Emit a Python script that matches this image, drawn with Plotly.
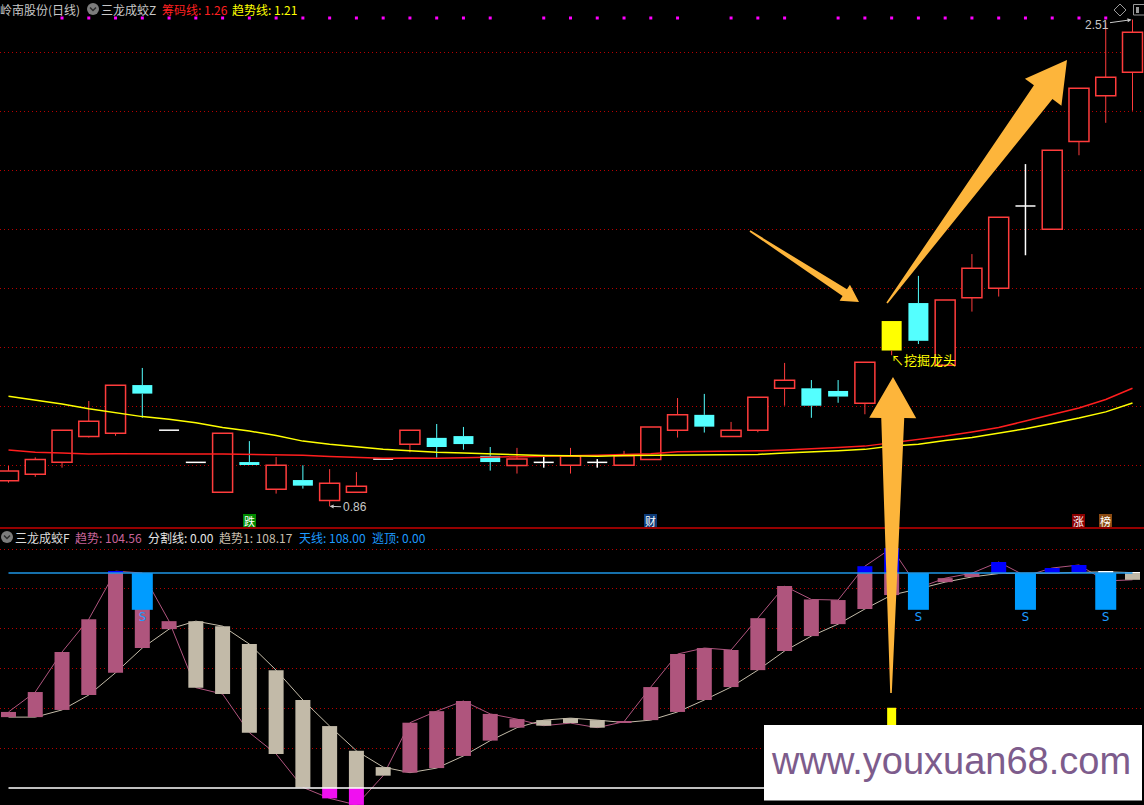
import plotly.graph_objects as go

W, H = 1144, 805

# ---------------- 主图 K 线 (price panel) ----------------
opens = [0.947, 0.969, 1.009, 1.097, 1.108, 1.271, 1.118, 1.009, 0.908, 1.010,
         0.918, 0.949, 0.880, 0.908, 1.020, 1.070, 1.092, 1.098, 1.031, 0.998,
         1.009, 0.999, 1.009, 0.999, 1.019, 1.118, 1.170, 1.097, 1.118, 1.260,
         1.260, 1.251, 1.209, 1.388, 1.549, 1.338, 1.567, 1.599, 1.878, 1.799,
         2.097, 2.252, 2.331]
highs = [0.997, 1.026, 1.118, 1.217, 1.270, 1.329, 1.118, 1.009, 1.108, 1.081,
         1.027, 0.999, 0.986, 0.976, 1.020, 1.118, 1.139, 1.129, 1.061, 1.058,
         1.028, 1.058, 1.020, 1.048, 1.129, 1.227, 1.241, 1.146, 1.230, 1.346,
         1.288, 1.288, 1.348, 1.488, 1.641, 1.559, 1.715, 1.840, 2.020, 2.067,
         2.277, 2.500, 2.510]
lows = [0.940, 0.960, 0.991, 1.093, 1.099, 1.160, 1.118, 1.009, 0.908, 1.000,
        0.903, 0.920, 0.860, 0.908, 1.020, 1.043, 1.025, 1.052, 0.981, 0.971,
        0.991, 0.971, 0.991, 0.999, 1.019, 1.093, 1.110, 1.097, 1.111, 1.201,
        1.160, 1.211, 1.172, 1.372, 1.410, 1.338, 1.520, 1.571, 1.711, 1.799,
        2.050, 2.160, 2.201]
closes = [0.980, 1.019, 1.118, 1.148, 1.270, 1.242, 1.118, 1.009, 1.108, 1.000,
          0.999, 0.930, 0.938, 0.928, 1.020, 1.118, 1.061, 1.071, 1.010, 1.020,
          1.009, 1.030, 1.009, 1.031, 1.129, 1.170, 1.130, 1.118, 1.230, 1.287,
          1.201, 1.232, 1.348, 1.488, 1.421, 1.559, 1.667, 1.840, 1.878, 2.067,
          2.277, 2.314, 2.467]
# 筹码线 (red) and 趋势线 (yellow)
chip_line = [1.051, 1.043, 1.041, 1.037, 1.038, 1.037, 1.037, 1.037, 1.037, 1.036,
             1.034, 1.033, 1.029, 1.026, 1.023, 1.024, 1.023, 1.025, 1.026, 1.028,
             1.030, 1.031, 1.033, 1.035, 1.038, 1.045, 1.046, 1.046, 1.048, 1.051,
             1.054, 1.059, 1.064, 1.075, 1.086, 1.098, 1.112, 1.127, 1.149, 1.170,
             1.193, 1.222, 1.260]
trend_line = [1.233, 1.220, 1.207, 1.191, 1.177, 1.164, 1.155, 1.143, 1.127, 1.115,
              1.100, 1.081, 1.070, 1.061, 1.053, 1.048, 1.043, 1.041, 1.038, 1.034,
              1.032, 1.031, 1.030, 1.032, 1.033, 1.033, 1.034, 1.035, 1.036, 1.041,
              1.044, 1.048, 1.053, 1.064, 1.070, 1.083, 1.093, 1.107, 1.123, 1.141,
              1.159, 1.180, 1.210]
dot_idx = list(range(2, 19)) + list(range(20, 26)) + [27, 28, 29] + list(range(31, 42))
signal_idx = 33
badges = [(9, "跌", "#008a00"), (24, "财", "#0d3b78"), (40, "涨", "#8b0000"), (41, "榜", "#8a4a12")]
grid_top = [1.0, 1.2, 1.4, 1.6, 1.8, 2.0, 2.2, 2.4]

# ---------------- 副图 三龙成蛟F ----------------
trend = [38.2, 48.2, 68.3, 84.8, 108.9, 108.0, 83.8, 50.4, 47.2, 27.8,
         17.1, 0.3, -5.2, -8.5, 6.2, 32.8, 38.6, 43.7, 37.2, 34.6,
         31.3, 32.6, 30.3, 33.3, 50.7, 67.3, 70.3, 69.3, 85.3, 101.4,
         94.7, 94.4, 111.4, 120.5, 100.5, 105.4, 107.9, 113.5, 106.5, 110.5,
         112.0, 104.0, 104.56]
trend1 = [35.6, 35.6, 39.2, 46.7, 57.9, 70.3, 79.8, 83.8, 81.3, 72.3,
          59.2, 44.2, 31.1, 18.7, 10.5, 7.7, 10.0, 16.1, 23.8, 30.3,
          34.1, 35.1, 34.1, 32.9, 34.1, 38.2, 44.2, 50.7, 59.2, 68.8,
          76.3, 82.3, 89.9, 96.9, 100.0, 103.4, 106.0, 107.7, 107.9, 107.9,
          108.3, 108.6, 108.17]
sky = 108.0      # 天线
split = 0.0      # 分割线
escape_idx = [5, 34, 38, 41]   # 逃顶 S
escape_low = 89.5
dig_height = 40.3
grid_bot = [20, 40, 60, 80, 100, 120]

# ---------------- pixel geometry ----------------
X0, STEP = 8.5, 26.762
def px(x): return x / W
def py(y): return 1 - y / H
def price_of(y): return 1.0 + (465 - y) / 295.0
def val_of(y): return (788 - y) / 1.991
def xpix(i): return X0 + STEP * i

n = len(opens)
idx = list(range(n))
xr = [-X0 / STEP, (W - X0) / STEP]
BW = 20 / STEP
RED, CYAN = "#ff3c3c", "#54ffff"

fig = go.Figure()

up = [i for i in idx if closes[i] > opens[i]]
down = [i for i in idx if closes[i] < opens[i]]
flat = [i for i in idx if closes[i] == opens[i]]

# wicks: split so they never cross the bodies
def wick_xy(ids):
    xs, ys = [], []
    for i in ids:
        top, bot = max(opens[i], closes[i]), min(opens[i], closes[i])
        if highs[i] > top:
            xs += [i, i, None]; ys += [top, highs[i], None]
        if lows[i] < bot:
            xs += [i, i, None]; ys += [lows[i], bot, None]
        if top == bot and highs[i] == lows[i]:
            pass
    return xs, ys

for ids, col in ((up, RED), (down, CYAN)):
    xs, ys = wick_xy(ids)
    fig.add_trace(go.Scatter(x=xs, y=ys, mode="lines", line=dict(color=col, width=1),
                             xaxis="x", yaxis="y", hoverinfo="skip"))
fx, fy = [], []
for i in flat:
    if highs[i] > lows[i]:
        fx += [i, i, None]; fy += [lows[i], highs[i], None]
    fx += [i - BW / 2, i + BW / 2, None]; fy += [opens[i], opens[i], None]
fig.add_trace(go.Scatter(x=fx, y=fy, mode="lines", line=dict(color="#ffffff", width=1.5),
                         xaxis="x", yaxis="y", hoverinfo="skip"))

upn = [i for i in up if i != signal_idx]
fig.add_trace(go.Bar(x=upn, base=[opens[i] for i in upn], y=[closes[i] - opens[i] for i in upn],
                     width=BW, opacity=1, marker=dict(color="#000000", line=dict(color=RED, width=1.5)),
                     xaxis="x", yaxis="y"))
fig.add_trace(go.Bar(x=down, base=[closes[i] for i in down], y=[opens[i] - closes[i] for i in down],
                     width=BW, opacity=1, marker=dict(color=CYAN, line=dict(color=CYAN, width=0)),
                     xaxis="x", yaxis="y"))
fig.add_trace(go.Bar(x=[signal_idx], base=[opens[signal_idx]], y=[closes[signal_idx] - opens[signal_idx]],
                     width=BW, opacity=1, marker=dict(color="#ffff00", line=dict(color="#ffff00", width=0)),
                     xaxis="x", yaxis="y"))

fig.add_trace(go.Scatter(x=idx, y=chip_line, mode="lines", line=dict(color="#ff1e1e", width=1.5),
                         xaxis="x", yaxis="y"))
fig.add_trace(go.Scatter(x=idx, y=trend_line, mode="lines", line=dict(color="#ffff00", width=1.5),
                         xaxis="x", yaxis="y"))
fig.add_trace(go.Scatter(x=dot_idx, y=[price_of(18)] * len(dot_idx), mode="markers",
                         marker=dict(symbol="square", size=3, color="#ff00ff", line=dict(width=0)),
                         xaxis="x", yaxis="y", cliponaxis=False))

# ---------------- 副图 traces ----------------
# lines live on y2 (underneath), bars on the overlaying y3 (drawn on top)
fig.add_trace(go.Scatter(x=idx, y=trend, mode="lines", line=dict(color="#b0557f", width=1),
                         xaxis="x2", yaxis="y2"))
fig.add_trace(go.Scatter(x=idx, y=trend1, mode="lines", line=dict(color="#c4bca9", width=1),
                         xaxis="x2", yaxis="y2"))

groups = {k: ([], [], []) for k in ("pink", "beige", "blue", "white", "mag")}
def add(k, i, a, b):
    groups[k][0].append(i); groups[k][1].append(a); groups[k][2].append(b - a)
for i in idx:
    a, b = trend[i], trend1[i]
    lo, hi = min(a, b), max(a, b)
    rising = a > b
    m_lo, m_hi = max(lo, split), min(hi, sky)
    if m_hi > m_lo:
        add("pink" if rising else "beige", i, m_lo, m_hi)
    if hi > sky:
        add("blue" if rising else "white", i, max(lo, sky), hi)
    if lo < split:
        add("mag", i, lo, min(hi, split))
colors = {"pink": "#af557d", "beige": "#c2baa8", "blue": "#0000ff", "white": "#ffffff", "mag": "#f010f0"}
BW2 = 15 / STEP
for k, (xs, bs, hs) in groups.items():
    fig.add_trace(go.Bar(x=xs, base=bs, y=hs, width=BW2, opacity=1,
                         marker=dict(color=colors[k], line=dict(width=0)),
                         xaxis="x2", yaxis="y3"))
fig.add_trace(go.Bar(x=escape_idx, base=[escape_low] * len(escape_idx), y=[sky - escape_low] * len(escape_idx),
                     width=21 / STEP, opacity=1, marker=dict(color="#009cff", line=dict(width=0)),
                     xaxis="x2", yaxis="y3"))
fig.add_trace(go.Bar(x=[signal_idx], base=[split], y=[dig_height], width=9 / STEP, opacity=1,
                     marker=dict(color="#ffff00", line=dict(width=0)), xaxis="x2", yaxis="y3"))
fig.add_trace(go.Scatter(x=escape_idx, y=[val_of(618)] * len(escape_idx), mode="text", text=["S"] * len(escape_idx),
                         textfont=dict(color="#1e9bff", size=13, family="DejaVu Sans Mono"),
                         xaxis="x2", yaxis="y3"))
fig.add_trace(go.Scatter(x=[0, n - 1], y=[split, split], mode="lines", line=dict(color="#ffffff", width=1.5),
                         xaxis="x2", yaxis="y3"))
fig.add_trace(go.Scatter(x=[0, n - 1], y=[sky, sky], mode="lines", line=dict(color="#1e96e6", width=1.5),
                         xaxis="x2", yaxis="y3"))

# ---------------- layout ----------------
GRID = "#b80000"
bot_range = [val_of(805), val_of(543)]
fig.update_layout(
    width=W, height=H, margin=dict(l=0, r=0, t=0, b=0),
    paper_bgcolor="#000000", plot_bgcolor="#000000", showlegend=False,
    barmode="overlay", hovermode=False,
    font=dict(family="Noto Sans CJK SC", size=12, color="#c8c8c8"),
    xaxis=dict(domain=[0, 1], range=xr, visible=False, anchor="y"),
    yaxis=dict(domain=[py(527), py(14)], range=[price_of(527), price_of(14)], tickvals=grid_top,
               showticklabels=False, showgrid=True, gridcolor=GRID, griddash="1px,3px", gridwidth=1,
               zeroline=False, ticks="", showline=False, anchor="x"),
    xaxis2=dict(domain=[0, 1], range=xr, visible=False, anchor="y2"),
    yaxis2=dict(domain=[0, py(543)], range=bot_range, tickvals=grid_bot,
                showticklabels=False, showgrid=True, gridcolor=GRID, griddash="1px,3px", gridwidth=1,
                zeroline=False, ticks="", showline=False, anchor="x2"),
    yaxis3=dict(overlaying="y2", range=bot_range, visible=False, showgrid=False, zeroline=False, anchor="x2"),
)

shapes = []
annots = []

def ann(x, y, text, color, size=12, xanchor="left", family="Noto Sans CJK SC", **kw):
    annots.append(dict(x=px(x), y=py(y), xref="paper", yref="paper", text=text, showarrow=False,
                       xanchor=xanchor, yanchor="middle", borderpad=0, borderwidth=0,
                       font=dict(color=color, size=size, family=family), **kw))

# separator
shapes.append(dict(type="line", xref="paper", yref="paper", x0=0, x1=1, y0=py(528), y1=py(528),
                   line=dict(color="#c80000", width=1.5)))

# header icons
def circle_icon(cx, cy):
    shapes.append(dict(type="circle", xref="paper", yref="paper", x0=px(cx - 6), x1=px(cx + 6),
                       y0=py(cy + 6), y1=py(cy - 6), fillcolor="#7c7c7c", line=dict(width=0)))
    shapes.append(dict(type="path", xref="paper", yref="paper",
                       path=f"M {px(cx-3)},{py(cy-1.5)} L {px(cx)},{py(cy+1.5)} L {px(cx+3)},{py(cy-1.5)}",
                       line=dict(color="#2a2a2a", width=1.5)))
circle_icon(93, 9)
circle_icon(7, 537)

ann(0, 9, "岭南股份(日线)", "#c8c8c8")
ann(101, 9, "三龙成蛟Z", "#c8c8c8")
ann(162, 9, f"筹码线: {chip_line[-1]:.2f}", "#ff2020")
ann(232, 9, f"趋势线: {trend_line[-1]:.2f}", "#ffff00")

ann(15, 537, "三龙成蛟F", "#dcdcdc")
ann(75, 537, f"趋势: {trend[-1]:.2f}", "#c8649a")
ann(148, 537, f"分割线: {split:.2f}", "#e6e6e6")
ann(219, 537, f"趋势1: {trend1[-1]:.2f}", "#c8bfae")
ann(299, 537, f"天线: {sky:.2f}", "#1e9bff")
ann(372, 537, "逃顶: 0.00", "#1e9bff")

# top-right icons
shapes.append(dict(type="path", xref="paper", yref="paper",
                   path=f"M {px(1120)},{py(4)} L {px(1126)},{py(10)} L {px(1120)},{py(16)} L {px(1114)},{py(10)} Z",
                   line=dict(color="#9a9a9a", width=1)))
shapes.append(dict(type="rect", xref="paper", yref="paper", x0=px(1133.5), x1=px(1147), y0=py(15), y1=py(4.5),
                   line=dict(color="#9a9a9a", width=1)))
shapes.append(dict(type="rect", xref="paper", yref="paper", x0=px(1136), x1=px(1139), y0=py(13), y1=py(7),
                   fillcolor="#9a9a9a", line=dict(width=0)))

# 挖掘龙头 label
ann(xpix(signal_idx) - 1, 360, "↖挖掘龙头", "#ffff00", size=13)

# high / low labels
hi_i = max(idx, key=lambda i: highs[i])
lo_i = min(idx, key=lambda i: lows[i])
annots.append(dict(x=hi_i, y=highs[hi_i], xref="x", yref="y", text=f"{highs[hi_i]:.2f}", showarrow=True,
                   ax=-36, ay=5, arrowhead=2, arrowsize=0.8, arrowwidth=1, arrowcolor="#c8c8c8", standoff=1,
                   font=dict(color="#c8c8c8", size=12, family="Liberation Sans")))
annots.append(dict(x=lo_i, y=lows[lo_i], xref="x", yref="y", text=f"{lows[lo_i]:.2f}", showarrow=True,
                   ax=25, ay=1, arrowhead=2, arrowsize=0.8, arrowwidth=1, arrowcolor="#c8c8c8", standoff=0,
                   font=dict(color="#c8c8c8", size=12, family="Liberation Sans")))

# badges
for i, ch, bg in badges:
    annots.append(dict(x=i, y=py(520.5), xref="x", yref="paper", text=ch, showarrow=False,
                       xanchor="center", yanchor="middle", bgcolor=bg, borderpad=0, borderwidth=0,
                       width=13, height=13, font=dict(color="#ffffff", size=11, family="Noto Sans CJK SC")))

# orange hand-drawn arrows
def arrow(tail, tip, w_tail, w_shaft, w_head, head_len):
    (tx, ty), (hx_, hy_) = tail, tip
    L = ((hx_ - tx) ** 2 + (hy_ - ty) ** 2) ** 0.5
    ux, uy = (hx_ - tx) / L, (hy_ - ty) / L
    nx, ny = -uy, ux
    bx, by = hx_ - ux * head_len, hy_ - uy * head_len
    pts = [(tx + nx * w_tail, ty + ny * w_tail), (bx + nx * w_shaft, by + ny * w_shaft),
           (bx + nx * w_head, by + ny * w_head), (hx_, hy_),
           (bx - nx * w_head, by - ny * w_head), (bx - nx * w_shaft, by - ny * w_shaft),
           (tx - nx * w_tail, ty - ny * w_tail)]
    path = "M " + " L ".join(f"{px(x):.5f},{py(y):.5f}" for x, y in pts) + " Z"
    shapes.append(dict(type="path", xref="paper", yref="paper", path=path, fillcolor="#fdb53b",
                       line=dict(width=0), layer="above"))

arrow((750, 231), (859, 302), 0.8, 4, 9.5, 17)
arrow((887, 303), (1067, 60), 0.8, 11.5, 22.7, 40)
arrow((891, 693), (893, 377), 0.8, 11.5, 23.5, 41)

# watermark
shapes.append(dict(type="rect", xref="paper", yref="paper", x0=px(764), x1=px(1142), y0=py(800.5), y1=py(725),
                   fillcolor="#ffffff", line=dict(width=0), layer="above"))
ann(951, 761, "www.youxuan68.com", "#7d5c8c", size=38, xanchor="center", family="Liberation Sans")

fig.update_layout(shapes=shapes, annotations=annots)

fig.write_html("out.html", config={"displayModeBar": False, "responsive": False},
               post_script="document.body.style.margin='0';document.body.style.overflow='hidden';")
